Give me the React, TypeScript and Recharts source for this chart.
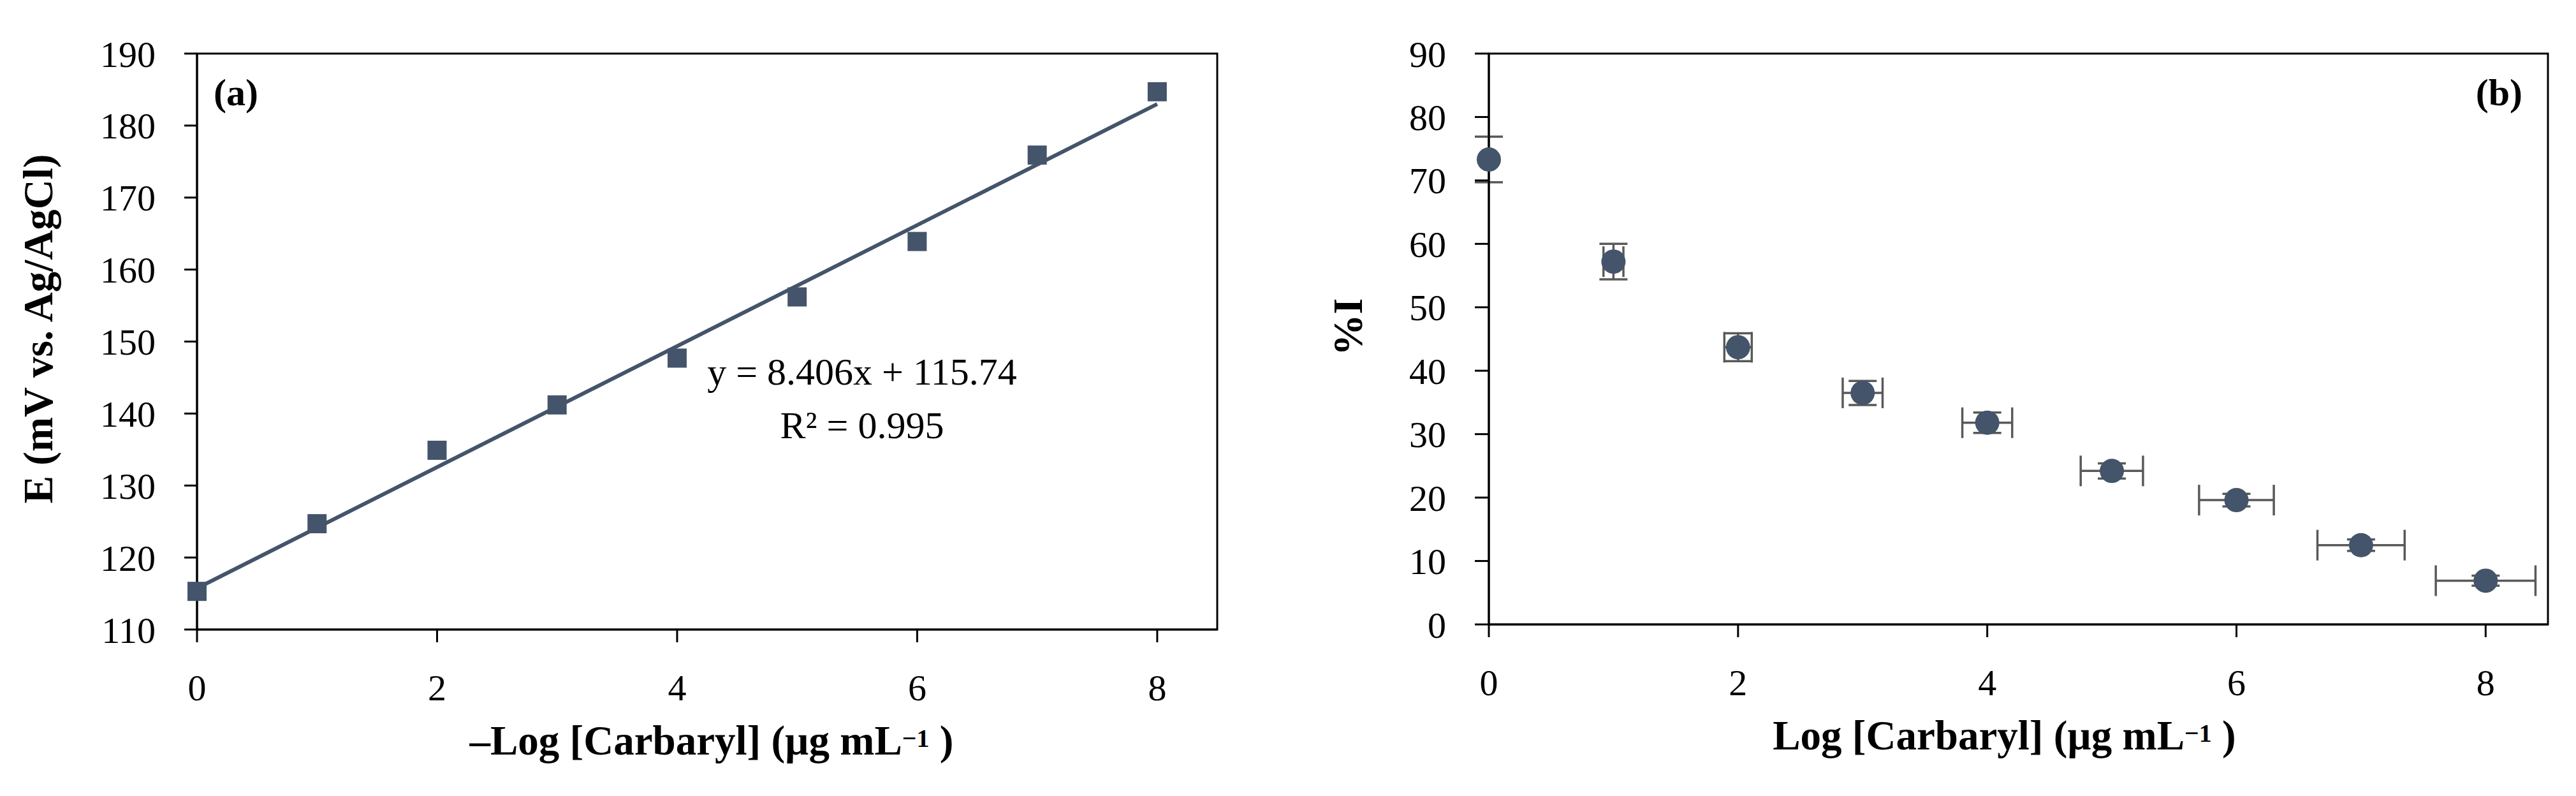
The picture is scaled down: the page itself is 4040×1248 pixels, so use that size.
import { ScatterChart, Scatter, XAxis, YAxis, ErrorBar, ReferenceArea, Label } from 'recharts';

const LOG_CONC = [0, 1, 2, 3, 4, 5, 6, 7, 8];
const POTENTIAL_MV = [115.3, 124.7, 134.9, 141.2, 147.7, 156.2, 163.9, 175.9, 184.7];
const INHIBITION = [73.3, 57.2, 43.7, 36.5, 31.8, 24.2, 19.6, 12.5, 6.9];
const INHIBITION_ERR = [3.6, 2.8, 2.2, 1.9, 1.6, 1.2, 1.0, 0.9, 0.8];
// x error of the first point is hidden under the marker
const LOG_CONC_ERR = [0, 0.08, 0.11, 0.16, 0.2, 0.25, 0.3, 0.35, 0.4];

// linear fit printed on panel (a)
const FIT_SLOPE = 8.406;
const FIT_INTERCEPT = 115.74;
const FIT_RANGE = [0, 8];

const X_TICKS = [0, 2, 4, 6, 8];
const E_TICKS = [110, 120, 130, 140, 150, 160, 170, 180, 190];
const I_TICKS = [0, 10, 20, 30, 40, 50, 60, 70, 80, 90];

const BLUE = '#44546A';
const ERR = '#595959';
const FONT = '"Liberation Serif", "Times New Roman", serif';

const potentialData = LOG_CONC.map((x, i) => ({ x, y: POTENTIAL_MV[i] }));
const fitData = FIT_RANGE.map((x) => ({ x, y: FIT_SLOPE * x + FIT_INTERCEPT }));
const inhibitionData = LOG_CONC.map((x, i) => ({
  x,
  y: INHIBITION[i],
  ey: INHIBITION_ERR[i],
  ex: LOG_CONC_ERR[i],
}));

const tickStyle = { fontSize: 58, fill: '#000', fontFamily: FONT };
const axisLine = { stroke: '#000', strokeWidth: 3 };

function SquareDot(props: any) {
  const { cx, cy } = props;
  if (cx == null || cy == null) return <g />;
  return <rect x={cx - 15} y={cy - 15} width={30} height={30} fill={BLUE} />;
}

function RoundDot(props: any) {
  const { cx, cy } = props;
  if (cx == null || cy == null) return <g />;
  return <circle cx={cx} cy={cy} r={19} fill={BLUE} />;
}

const NoDot = () => <g />;

function XTitle({ viewBox, shift, dash }: any) {
  const { x, y, width } = viewBox;
  return (
    <text
      x={x + width / 2 + shift}
      y={y + 196}
      textAnchor="middle"
      fontFamily={FONT}
      fontSize={65}
      fontWeight="bold"
      fill="#000"
    >
      {dash ? '–' : ''}Log [Carbaryl] (µg mL
      <tspan dy={-12} fontSize={40}>
        −1
      </tspan>
      <tspan dy={12}> )</tspan>
    </text>
  );
}

function YTitle({ viewBox, text, dx, dy }: any) {
  const { x, y, height } = viewBox;
  const cx = x + dx;
  const cy = y + height / 2 + dy;
  return (
    <text
      x={cx}
      y={cy}
      transform={`rotate(-90, ${cx}, ${cy})`}
      textAnchor="middle"
      fontFamily={FONT}
      fontSize={65}
      fontWeight="bold"
      fill="#000"
    >
      {text}
    </text>
  );
}

function PanelA() {
  return (
    <ScatterChart
      width={2000}
      height={1248}
      margin={{ top: 84, right: 91, bottom: 111, left: 109 }}
      style={{ fontFamily: FONT }}
    >
      <XAxis
        type="number"
        dataKey="x"
        domain={[0, 8.5]}
        ticks={X_TICKS}
        height={150}
        tick={tickStyle}
        tickSize={20}
        tickMargin={50}
        axisLine={axisLine}
        tickLine={axisLine}
      >
        <Label content={(p: any) => <XTitle {...p} shift={7} dash />} />
      </XAxis>
      <YAxis
        type="number"
        dataKey="y"
        domain={[110, 190]}
        ticks={E_TICKS}
        width={200}
        tick={tickStyle}
        tickSize={20}
        tickMargin={45}
        axisLine={axisLine}
        tickLine={axisLine}
      >
        <Label content={(p: any) => <YTitle {...p} text="E (mV vs. Ag/AgCl)" dx={-27} dy={-20} />} />
      </YAxis>
      <ReferenceArea x1={0} x2={8.5} y1={110} y2={190} fill="none" stroke="#000" strokeWidth={3}>
        <Label
          content={(p: any) => {
            const { x, y } = p.viewBox;
            return (
              <g fontFamily={FONT} fill="#000">
                <text x={x + 26} y={y + 81} fontSize={60} fontWeight="bold">
                  (a)
                </text>
                <text x={x + 1043} y={y + 519} fontSize={60} textAnchor="middle">
                  y = 8.406x + 115.74
                </text>
                <text x={x + 1043} y={y + 603} fontSize={60} textAnchor="middle">
                  R² = 0.995
                </text>
              </g>
            );
          }}
        />
      </ReferenceArea>
      <Scatter
        data={fitData}
        line={{ stroke: BLUE, strokeWidth: 6 }}
        stroke={BLUE}
        strokeWidth={6}
        shape={NoDot}
        isAnimationActive={false}
      />
      <Scatter data={potentialData} shape={SquareDot} isAnimationActive={false} />
    </ScatterChart>
  );
}

function PanelB() {
  return (
    <ScatterChart
      width={2040}
      height={1248}
      margin={{ top: 84, right: 44, bottom: 119, left: 135 }}
      style={{ fontFamily: FONT }}
    >
      <XAxis
        type="number"
        dataKey="x"
        domain={[0, 8.5]}
        ticks={X_TICKS}
        height={150}
        tick={tickStyle}
        tickSize={20}
        tickMargin={50}
        axisLine={axisLine}
        tickLine={axisLine}
      >
        <Label content={(p: any) => <XTitle {...p} shift={-22} />} />
      </XAxis>
      <YAxis
        type="number"
        dataKey="y"
        domain={[0, 90]}
        ticks={I_TICKS}
        width={200}
        tick={tickStyle}
        tickSize={22}
        tickMargin={45}
        axisLine={axisLine}
        tickLine={axisLine}
      >
        <Label content={(p: any) => <YTitle {...p} text="%I" dx={1} dy={-19} />} />
      </YAxis>
      <ReferenceArea x1={0} x2={8.5} y1={0} y2={90} fill="none" stroke="#000" strokeWidth={3}>
        <Label
          content={(p: any) => {
            const { x, y, width } = p.viewBox;
            return (
              <text
                x={x + width - 40}
                y={y + 81}
                textAnchor="end"
                fontFamily={FONT}
                fontSize={60}
                fontWeight="bold"
                fill="#000"
              >
                (b)
              </text>
            );
          }}
        />
      </ReferenceArea>
      <Scatter data={inhibitionData} shape={RoundDot} isAnimationActive={false}>
        <ErrorBar dataKey="ey" direction="y" width={22} stroke={ERR} strokeWidth={3.5} />
        <ErrorBar dataKey="ex" direction="x" width={24} stroke={ERR} strokeWidth={3.5} />
      </Scatter>
    </ScatterChart>
  );
}

export default function App() {
  return (
    <div style={{ position: 'absolute', left: 0, top: 0, width: 4040, height: 1248, background: '#fff' }}>
      <div style={{ position: 'absolute', left: 0, top: 0 }}>
        <PanelA />
      </div>
      <div style={{ position: 'absolute', left: 2000, top: 0 }}>
        <PanelB />
      </div>
    </div>
  );
}
